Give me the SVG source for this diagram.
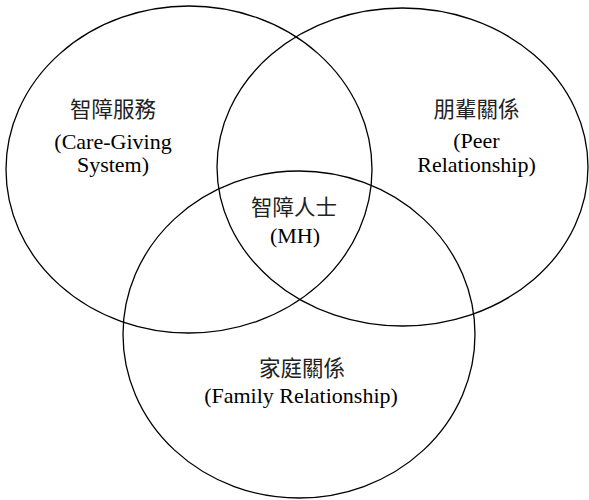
<svg xmlns="http://www.w3.org/2000/svg" width="589" height="500" viewBox="0 0 589 500">
<style>
.ring{fill:none;stroke:#000;stroke-width:1.3}
.t{font-family:"Liberation Serif","Times New Roman","Noto Sans CJK TC",serif;font-size:22px;fill:#000;text-anchor:middle}
.c{font-family:"Noto Sans CJK TC","Liberation Serif",serif;font-size:21.5px;fill:#222;text-anchor:middle}
</style>
<rect width="589" height="500" fill="#fff"/>
<g id="connectors"></g>
<g id="care">
<ellipse class="ring" cx="189" cy="169.5" rx="183" ry="163.5"/>
<text class="c" x="113" y="117">智障服務</text>
<text class="t" x="113" y="149">(Care-Giving</text>
<text class="t" x="113" y="172">System)</text>
</g>
<g id="peer">
<ellipse class="ring" cx="402.5" cy="167" rx="185.5" ry="159"/>
<text class="c" x="476.5" y="117">朋輩關係</text>
<text class="t" x="476.5" y="148">(Peer</text>
<text class="t" x="476.5" y="172">Relationship)</text>
</g>
<g id="family">
<ellipse class="ring" cx="299" cy="334.5" rx="176" ry="163.5"/>
<text class="c" x="302" y="376">家庭關係</text>
<text class="t" x="301" y="403">(Family Relationship)</text>
</g>
<g id="mh">
<text class="c" x="294" y="215">智障人士</text>
<text class="t" x="295" y="243">(MH)</text>
</g>
</svg>
